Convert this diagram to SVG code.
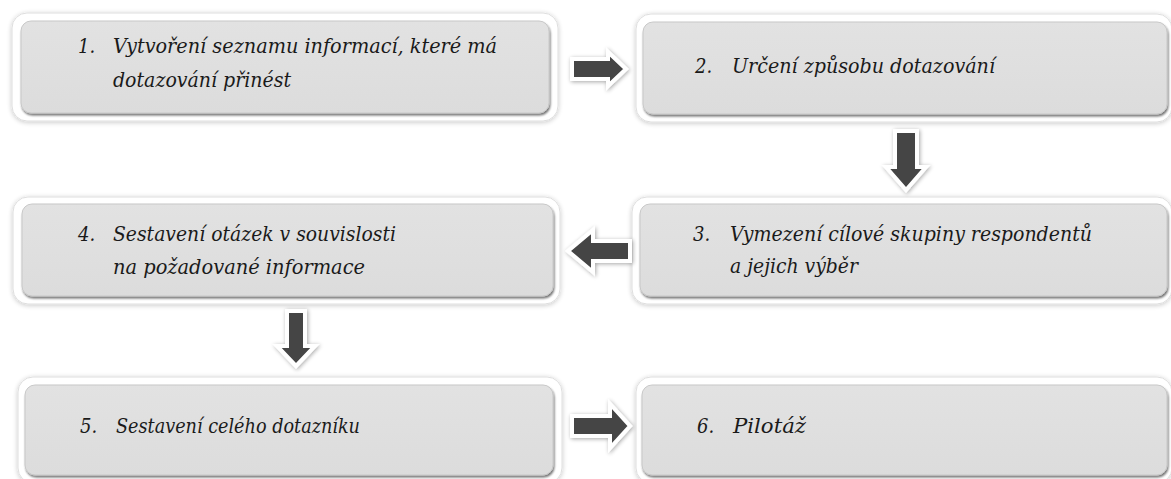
<svg xmlns="http://www.w3.org/2000/svg" width="1171" height="479" viewBox="0 0 1171 479">
  <defs>
    <filter id="glow" x="-5%" y="-20%" width="110%" height="140%">
      <feGaussianBlur in="SourceAlpha" stdDeviation="2.5"/>
      <feOffset dx="0" dy="1"/>
      <feComponentTransfer><feFuncA type="linear" slope="0.22"/></feComponentTransfer>
      <feMerge><feMergeNode/><feMergeNode in="SourceGraphic"/></feMerge>
    </filter>
    <filter id="bevel" x="-5%" y="-20%" width="110%" height="140%">
      <feGaussianBlur in="SourceAlpha" stdDeviation="1.3"/>
      <feOffset dx="0.5" dy="2"/>
      <feComponentTransfer><feFuncA type="linear" slope="0.55"/></feComponentTransfer>
      <feMerge><feMergeNode/><feMergeNode in="SourceGraphic"/></feMerge>
    </filter>
    <filter id="ashadow" x="-30%" y="-30%" width="160%" height="160%">
      <feGaussianBlur in="SourceAlpha" stdDeviation="2"/>
      <feOffset dx="1" dy="1"/>
      <feComponentTransfer><feFuncA type="linear" slope="0.35"/></feComponentTransfer>
      <feMerge><feMergeNode/><feMergeNode in="SourceGraphic"/></feMerge>
    </filter>
    <linearGradient id="gfill" x1="0" y1="0" x2="0" y2="1">
      <stop offset="0" stop-color="#e2e2e2"/>
      <stop offset="1" stop-color="#dcdcdc"/>
    </linearGradient>
  </defs>
  <style>
    .outer { fill: #ffffff; stroke: #dedede; stroke-width: 1; filter: url(#glow); }
    .inner { fill: url(#gfill); stroke: #c8c8c8; stroke-width: 1; filter: url(#bevel); }
    .t { font-family: "DejaVu Serif", "Liberation Serif", serif; font-style: italic; font-stretch: condensed; font-size: 20px; fill: #1a1a1a; }
    .arrow { fill: #444444; stroke: #ffffff; stroke-width: 4; stroke-linejoin: miter; filter: url(#ashadow); }
  </style>
  <rect width="1171" height="479" fill="#ffffff"/>

  <g id="node1">
    <rect class="outer" x="12" y="13" width="546" height="108" rx="15"/>
    <rect class="inner" x="21" y="21" width="528" height="92" rx="10"/>
    <text class="t" x="78" y="53">1.</text>
    <text class="t" x="113" y="53" textLength="384" lengthAdjust="spacingAndGlyphs">Vytvoření seznamu informací, které má</text>
    <text class="t" x="113" y="87" textLength="178" lengthAdjust="spacingAndGlyphs">dotazování přinést</text>
  </g>

  <g id="node2">
    <rect class="outer" x="636" y="14" width="536" height="108" rx="15"/>
    <rect class="inner" x="643" y="22" width="524" height="92" rx="10"/>
    <text class="t" x="695" y="73">2.</text>
    <text class="t" x="732" y="73" textLength="263" lengthAdjust="spacingAndGlyphs">Určení způsobu dotazování</text>
  </g>

  <g id="node3">
    <rect class="outer" x="632" y="197" width="540" height="107" rx="15"/>
    <rect class="inner" x="640" y="204" width="527" height="92" rx="10"/>
    <text class="t" x="693" y="241">3.</text>
    <text class="t" x="730" y="241" textLength="362" lengthAdjust="spacingAndGlyphs">Vymezení cílové skupiny respondentů</text>
    <text class="t" x="730" y="273" textLength="128" lengthAdjust="spacingAndGlyphs">a jejich výběr</text>
  </g>

  <g id="node4">
    <rect class="outer" x="13" y="197" width="547" height="107" rx="15"/>
    <rect class="inner" x="22" y="204" width="531" height="92" rx="10"/>
    <text class="t" x="78" y="241">4.</text>
    <text class="t" x="113" y="241" textLength="283" lengthAdjust="spacingAndGlyphs">Sestavení otázek v souvislosti</text>
    <text class="t" x="113" y="274" textLength="252" lengthAdjust="spacingAndGlyphs">na požadované informace</text>
  </g>

  <g id="node5">
    <rect class="outer" x="18" y="377" width="544" height="106" rx="15"/>
    <rect class="inner" x="25" y="385" width="528" height="90" rx="10"/>
    <text class="t" x="80" y="433">5.</text>
    <text class="t" x="116" y="433" textLength="244" lengthAdjust="spacingAndGlyphs">Sestavení celého dotazníku</text>
  </g>

  <g id="node6">
    <rect class="outer" x="636" y="377" width="536" height="106" rx="15"/>
    <rect class="inner" x="642" y="385" width="525" height="90" rx="10"/>
    <text class="t" x="697" y="433">6.</text>
    <text class="t" x="733" y="433" textLength="73" lengthAdjust="spacingAndGlyphs">Pilotáž</text>
  </g>

  <g id="connectors">
    <polygon class="arrow" points="572,59 608,59 608,52 626,69 608,86 608,79 572,79"/>
    <polygon class="arrow" points="895,131 917,131 917,167 926,167 906,190 886,167 895,167"/>
    <polygon class="arrow" points="630,241 593,241 593,230 568,251 593,272 593,261 630,261"/>
    <polygon class="arrow" points="287,311 305,311 305,346 315,346 296,366 277,346 287,346"/>
    <polygon class="arrow" points="572,416 610,416 610,404 630,426 610,448 610,436 572,436"/>
  </g>
</svg>
